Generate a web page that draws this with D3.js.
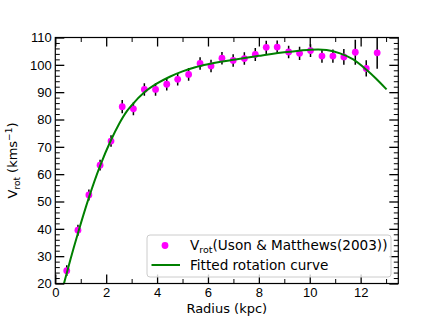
<!DOCTYPE html>
<html>
<head>
<meta charset="utf-8">
<script src="https://cdn.jsdelivr.net/npm/d3@7"></script>
<style>
  body { margin: 0; background: #fff; }
  svg { display: block; font-family: "DejaVu Sans", sans-serif; }
</style>
</head>
<body>
<div id="chart"></div>
<script>
// observed rotation velocities
var radius = [0.45, 0.89, 1.32, 1.76, 2.19, 2.63, 3.07, 3.50, 3.94, 4.38, 4.81, 5.24, 5.69, 6.12, 6.55,
  6.99, 7.43, 7.86, 8.29, 8.72, 9.17, 9.60, 10.03, 10.48, 10.91, 11.34, 11.79, 12.22, 12.65];
var vrot = [24.7, 39.5, 52.4, 63.3, 72.1, 84.7, 83.9, 91.0, 91.0, 92.9, 94.7, 96.5, 100.5, 99.6, 102.4,
  101.6, 102.3, 103.8, 106.4, 106.5, 104.7, 104.2, 105.2, 103.2, 103.2, 102.9, 104.6, 98.7, 104.4];
var verr = [2.0, 2.0, 2.0, 2.0, 2.1, 2.4, 2.3, 2.3, 2.3, 2.3, 2.3, 2.3, 2.3, 2.3, 2.3,
  2.3, 2.3, 2.4, 2.4, 2.4, 2.3, 2.4, 2.3, 2.4, 2.4, 2.9, 4.6, 3.0, 5.8];

// fitted curve
var fitR = [0.34, 0.6, 0.89, 1.32, 1.76, 2.19, 2.5, 2.8, 3.0, 3.5, 4.0, 4.5, 5.0, 5.5, 6.0, 6.5, 7.0,
  7.5, 8.0, 8.5, 9.0, 9.5, 10.0, 10.33, 10.66, 11.19, 11.71, 12.24, 12.6, 13.02];
var fitV = [20, 29.0, 38.4, 51.4, 63.0, 72.5, 78.3, 82.9, 85.2, 89.95, 93.2, 95.65, 97.6, 99.1, 100.2,
  101.1, 101.85, 102.6, 103.3, 104.0, 104.6, 105.1, 105.5, 105.6, 105.4, 104.2, 102.0, 98.1, 95.0, 91.0];

var xMajor = [0, 2, 4, 6, 8, 10, 12];
var xMinor = [1, 3, 5, 7, 9, 11, 13];
var yMajor = [20, 30, 40, 50, 60, 70, 80, 90, 100, 110];
var yMinor = d3.range(22, 110, 2).filter(function (d) { return d % 10 !== 0; });

var width = 443;
var height = 319;
var padL = 55.3, padR = 398.3, padT = 37.5, padB = 283.5;
var fs = "13px";
var legendFs = "13.6px";

var scalex = d3.scaleLinear().domain([0, 13.48]).range([padL, padR]);
var scaley = d3.scaleLinear().domain([20, 110]).range([padB, padT]);

var svg = d3.select("#chart")
  .append("svg")
  .attr("width", width)
  .attr("height", height);

// clip to plot area
svg.append("clipPath").attr("id", "clip")
  .append("rect")
  .attr("x", padL).attr("y", padT)
  .attr("width", padR - padL).attr("height", padB - padT);

var plot = svg.append("g").attr("clip-path", "url(#clip)");

// error bars
plot.selectAll(".err")
  .data(radius)
  .enter()
  .append("line")
  .attr("x1", function (d) { return scalex(d); })
  .attr("x2", function (d) { return scalex(d); })
  .attr("y1", function (d, i) { return scaley(vrot[i] - verr[i]); })
  .attr("y2", function (d, i) { return scaley(vrot[i] + verr[i]); })
  .attr("stroke", "#000")
  .attr("stroke-width", 1.5);

// points
plot.selectAll(".pt")
  .data(radius)
  .enter()
  .append("circle")
  .attr("cx", function (d) { return scalex(d); })
  .attr("cy", function (d, i) { return scaley(vrot[i]); })
  .attr("r", 3.4)
  .attr("fill", "#ff00ff");

// fitted curve
var line = d3.line()
  .x(function (d) { return scalex(d); })
  .y(function (d, i) { return scaley(fitV[i]); })
  .curve(d3.curveMonotoneX);

plot.append("path")
  .attr("d", line(fitR))
  .attr("fill", "none")
  .attr("stroke", "#008000")
  .attr("stroke-width", 2);

// axes, ticks pointing inward
function styleAxis(g) {
  g.select(".domain").remove();
  g.selectAll("line").attr("stroke", "#000");
  g.selectAll("text").attr("fill", "#000").style("font-size", fs);
}

svg.append("g")
  .attr("transform", "translate(0," + padB + ")")
  .call(d3.axisBottom(scalex).tickValues(xMajor).tickFormat(d3.format("d"))
    .tickSizeInner(-9).tickSizeOuter(0).tickPadding(4.5))
  .call(styleAxis)
  .selectAll("line").attr("stroke-width", 1.3);
svg.append("g")
  .attr("transform", "translate(0," + padB + ")")
  .call(d3.axisBottom(scalex).tickValues(xMinor).tickFormat("")
    .tickSizeInner(-4.5).tickSizeOuter(0))
  .call(styleAxis);
svg.append("g")
  .attr("transform", "translate(0," + padT + ")")
  .call(d3.axisTop(scalex).tickValues(xMajor).tickFormat("")
    .tickSizeInner(-9).tickSizeOuter(0))
  .call(styleAxis)
  .selectAll("line").attr("stroke-width", 1.3);
svg.append("g")
  .attr("transform", "translate(0," + padT + ")")
  .call(d3.axisTop(scalex).tickValues(xMinor).tickFormat("")
    .tickSizeInner(-4.5).tickSizeOuter(0))
  .call(styleAxis);

svg.append("g")
  .attr("transform", "translate(" + padL + ",0)")
  .call(d3.axisLeft(scaley).tickValues(yMajor).tickFormat(d3.format("d"))
    .tickSizeInner(-9).tickSizeOuter(0).tickPadding(3.5))
  .call(styleAxis)
  .selectAll("line").attr("stroke-width", 1.3);
svg.append("g")
  .attr("transform", "translate(" + padL + ",0)")
  .call(d3.axisLeft(scaley).tickValues(yMinor).tickFormat("")
    .tickSizeInner(-4.5).tickSizeOuter(0))
  .call(styleAxis);
svg.append("g")
  .attr("transform", "translate(" + padR + ",0)")
  .call(d3.axisRight(scaley).tickValues(yMajor).tickFormat("")
    .tickSizeInner(-9).tickSizeOuter(0))
  .call(styleAxis)
  .selectAll("line").attr("stroke-width", 1.3);
svg.append("g")
  .attr("transform", "translate(" + padR + ",0)")
  .call(d3.axisRight(scaley).tickValues(yMinor).tickFormat("")
    .tickSizeInner(-4.5).tickSizeOuter(0))
  .call(styleAxis);

// frame
svg.append("rect")
  .attr("x", padL).attr("y", padT)
  .attr("width", padR - padL).attr("height", padB - padT)
  .attr("fill", "none")
  .attr("stroke", "#000")
  .attr("stroke-width", 1.2);

// axis labels
svg.append("text")
  .attr("x", (padL + padR) / 2)
  .attr("y", 313)
  .attr("text-anchor", "middle")
  .style("font-size", fs)
  .text("Radius (kpc)");

var ylab = svg.append("text")
  .attr("transform", "translate(16.7," + (padT + padB) / 2 + ") rotate(-90)")
  .attr("text-anchor", "middle")
  .style("font-size", fs);
ylab.append("tspan").text("V");
ylab.append("tspan").attr("dy", 3).style("font-size", "9px").text("rot");
ylab.append("tspan").attr("dy", -3).text(" (kms");
ylab.append("tspan").attr("dy", -5).style("font-size", "9px").text("\u22121");
ylab.append("tspan").attr("dy", 5).text(")");

// legend
var legend = svg.append("g");
legend.append("rect")
  .attr("x", 147).attr("y", 235)
  .attr("width", 244).attr("height", 42)
  .attr("rx", 3)
  .attr("fill", "#fff").attr("fill-opacity", 0.8)
  .attr("stroke", "#cccccc");
legend.append("circle")
  .attr("cx", 165).attr("cy", 245.5).attr("r", 3.4)
  .attr("fill", "#ff00ff");
legend.append("line")
  .attr("x1", 151.5).attr("x2", 180)
  .attr("y1", 265).attr("y2", 265)
  .attr("stroke", "#008000").attr("stroke-width", 2);
var lt = legend.append("text")
  .attr("x", 190).attr("y", 250)
  .style("font-size", legendFs);
lt.append("tspan").text("V");
lt.append("tspan").attr("dy", 3).style("font-size", "9.5px").text("rot");
lt.append("tspan").attr("dy", -3).text("(Uson & Matthews(2003))");
legend.append("text")
  .attr("x", 190).attr("y", 269.5)
  .style("font-size", legendFs)
  .text("Fitted rotation curve");
</script>
</body>
</html>
